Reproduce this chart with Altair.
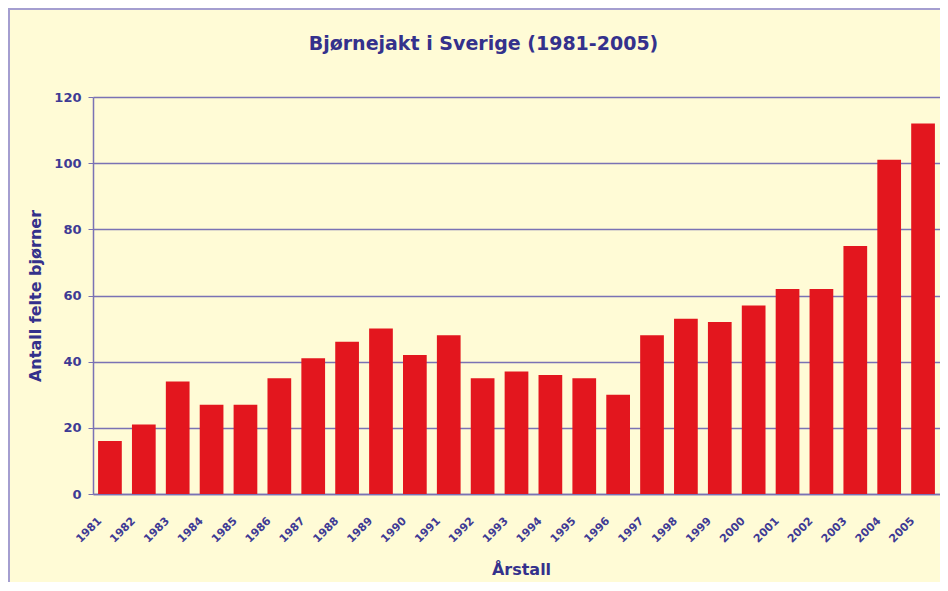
import altair as alt
import pandas as pd

years = ["1981", "1982", "1983", "1984", "1985", "1986", "1987", "1988", "1989",
         "1990", "1991", "1992", "1993", "1994", "1995", "1996", "1997", "1998",
         "1999", "2000", "2001", "2002", "2003", "2004", "2005"]
counts = [16, 21, 34, 27, 27, 35, 41, 46, 50, 42, 48, 35, 37, 36, 35, 30,
          48, 53, 52, 57, 62, 62, 75, 101, 112]
y_ticks = [0, 20, 40, 60, 80, 100, 120]

df = pd.DataFrame({"year": years, "count": counts})

WIDE = "DejaVu Sans"
TXT = "#34318c"
LBL = "#3e3a94"
GRID = "#7a72b4"

bars = alt.Chart(df).mark_bar(color="#e3161e").encode(
    x=alt.X("year:O", title="Årstall", sort=years,
            scale=alt.Scale(paddingInner=0.3, paddingOuter=0.15),
            axis=alt.Axis(labelAngle=-45, labelAlign="right", labelBaseline="middle",
                          labelPadding=25, labelOffset=-10, ticks=False,
                          labelFont=WIDE, labelFontSize=11, labelFontWeight="bold",
                          labelColor=LBL, titleFont=WIDE, titleFontSize=16,
                          titleFontWeight="bold", titleColor=TXT, titlePadding=17,
                          titleX=428, titleAnchor="middle",
                          domainColor=GRID, domainWidth=1.5)),
    y=alt.Y("count:Q", title="Antall felte bjørner",
            scale=alt.Scale(domain=[0, 120], nice=False),
            axis=alt.Axis(values=y_ticks, tickSize=5, tickColor=GRID, labelPadding=7,
                          labelFont=WIDE, labelFontSize=13, labelFontWeight="bold",
                          labelColor=LBL, titleFont=WIDE, titleFontSize=16,
                          titleFontWeight="bold", titleColor=TXT, titlePadding=10,
                          domainColor=GRID, domainWidth=1.5,
                          grid=True, gridColor=GRID, gridWidth=1.3)),
)

frame = alt.Chart(pd.DataFrame({"f": [0]})).mark_rect(
    fill="transparent", stroke="#a49ed0", strokeWidth=2
).encode(x=alt.value(-84), x2=alt.value(900), y=alt.value(-88), y2=alt.value(600))

chart = alt.layer(bars, frame).properties(
    width=847,
    height=397,
    title=alt.TitleParams("Bjørnejakt i Sverige (1981-2005)", font=WIDE, fontSize=19,
                          fontWeight="bold", color=TXT, anchor="middle", frame="group",
                          offset=42, dx=-33, dy=88),
    background="#fffbd6",
    padding={"left": 85, "top": 89, "right": 0, "bottom": 88},
    autosize=alt.AutoSizeParams(type="none"),
).configure_view(stroke="transparent")

chart.save("out.html", embed_options={"renderer": "svg", "actions": False})
